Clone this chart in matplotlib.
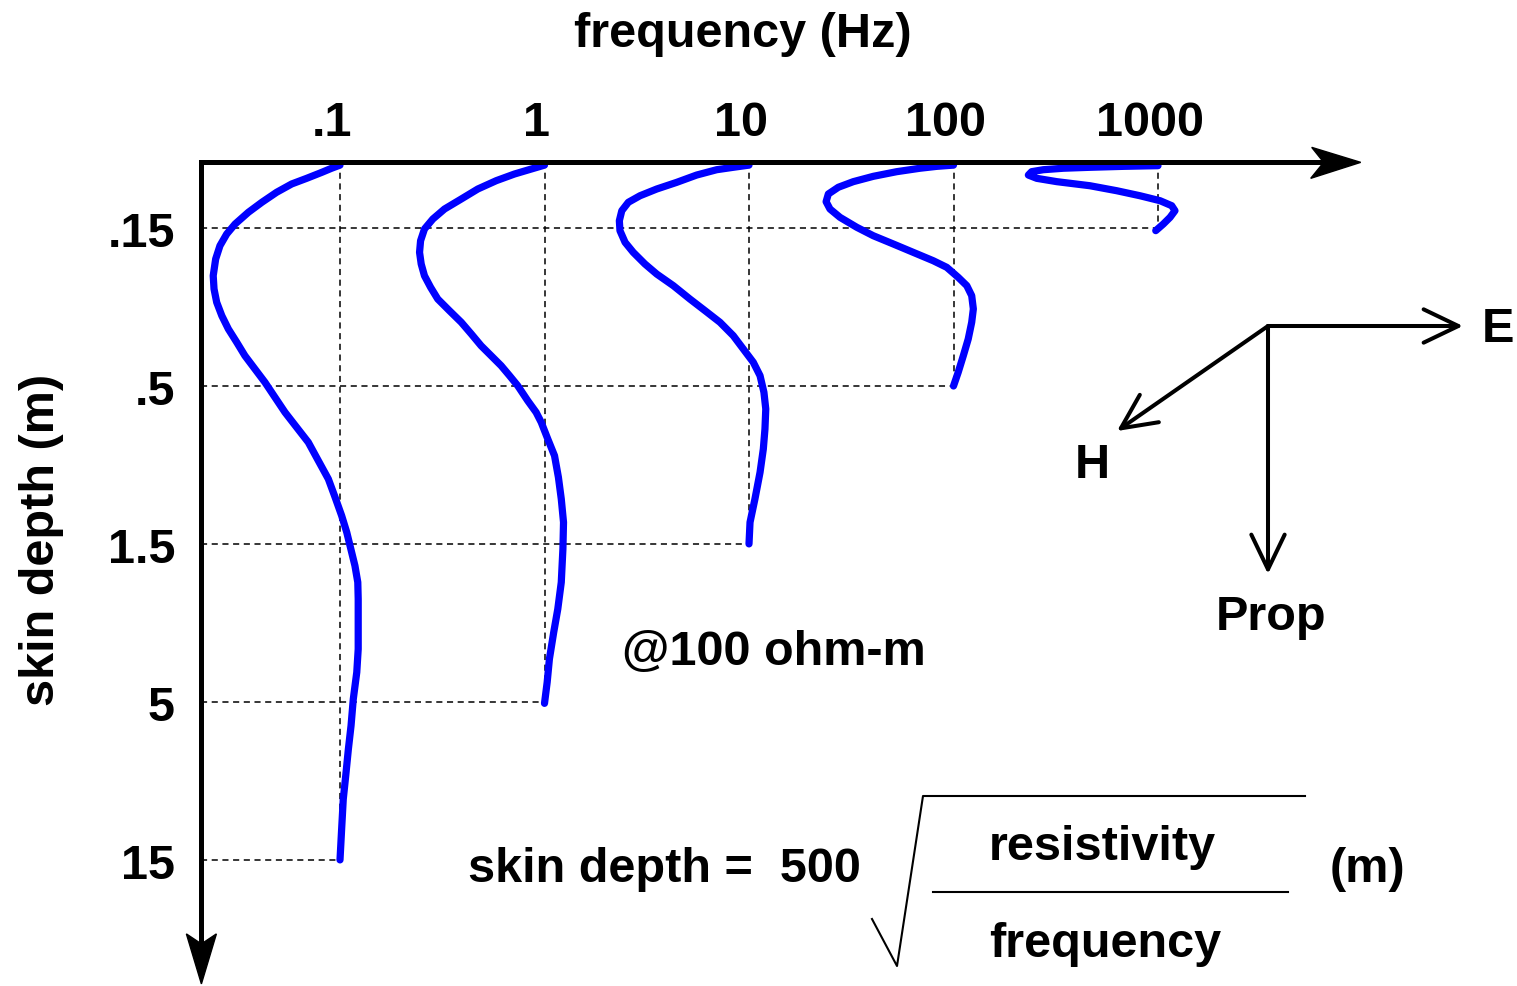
import matplotlib
matplotlib.use('Agg')
import matplotlib.pyplot as plt
import numpy as np
from matplotlib.lines import Line2D
from matplotlib.patches import Polygon
from matplotlib.transforms import ScaledTranslation

W, H, DPI = 1517, 987, 100
plt.rcParams['font.family'] = ['Liberation Sans', 'DejaVu Sans']
plt.rcParams['font.weight'] = 'bold'
FS = 35

# frequency columns (Hz) and the skin depth (km) each one reaches at 100 ohm-m
freqs = [0.1, 1, 10, 100, 1000]
freq_labels = ['.1', '1', '10', '100', '1000']
skin_depths = [15.8, 5.0, 1.58, 0.5, 0.158]
depth_ticks = [0.158, 0.5, 1.58, 5.0, 15.8]
depth_labels = ['.15', '.5', '1.5', '5', '15']

# traced field curves: sideways offset from the column (decades) vs depth (km)
amp_0p1 = [0, -0.041, -0.089, -0.163, -0.236, -0.310, -0.382, -0.448, -0.513, -0.554,
           -0.587, -0.608, -0.620, -0.616, -0.603, -0.578, -0.546, -0.505, -0.465, -0.416,
           -0.367, -0.318, -0.269, -0.212, -0.155, -0.106, -0.057, -0.024, 0.008, 0.033,
           0.053, 0.073, 0.087, 0.089, 0.089, 0.082, 0.065, 0.054, 0.041, 0.028,
           0.016, 0.008, 0.0]
z_0p1 = [0.100, 0.1023, 0.1054, 0.1101, 0.1147, 0.1219, 0.1311, 0.1410, 0.1536, 0.1652,
         0.1799, 0.1982, 0.2239, 0.2466, 0.2717, 0.2996, 0.3300, 0.3636, 0.4010, 0.4418,
         0.4867, 0.5430, 0.6057, 0.6757, 0.7536, 0.8617, 0.9847, 1.125, 1.286, 1.452,
         1.640, 1.852, 2.090, 2.361, 3.400, 4.027, 4.893, 5.943, 7.042, 8.553,
         10.14, 12.62, 15.8]
amp_1 = [0, -0.065, -0.147, -0.236, -0.326, -0.407, -0.489, -0.546, -0.587, -0.606,
         -0.611, -0.603, -0.587, -0.557, -0.522, -0.465, -0.407, -0.358, -0.310, -0.261,
         -0.212, -0.171, -0.131, -0.082, -0.041, -0.016, 0.016, 0.049, 0.068, 0.082,
         0.093, 0.090, 0.082, 0.065, 0.045, 0.024, 0.013, 0.0]
z_1 = [0.100, 0.1029, 0.1067, 0.1120, 0.1190, 0.1280, 0.1377, 0.1481, 0.1593, 0.1735,
       0.1888, 0.2055, 0.2239, 0.2436, 0.2653, 0.2888, 0.3143, 0.3422, 0.3729, 0.4010,
       0.4313, 0.4638, 0.4989, 0.5566, 0.6057, 0.6515, 0.7357, 0.8309, 0.9725, 1.139,
       1.350, 1.640, 2.090, 2.539, 3.009, 3.655, 4.332, 5.05]
amp_10 = [0, -0.077, -0.158, -0.256, -0.354, -0.451, -0.533, -0.590, -0.622, -0.634,
          -0.631, -0.606, -0.566, -0.509, -0.451, -0.370, -0.289, -0.215, -0.142, -0.077,
          -0.028, 0.021, 0.054, 0.073, 0.082, 0.078, 0.070, 0.054, 0.029, 0.005, 0.0]
z_10 = [0.100, 0.1016, 0.1034, 0.1075, 0.1134, 0.1190, 0.1250, 0.1311, 0.1394, 0.1499,
        0.1612, 0.1755, 0.1888, 0.2055, 0.2212, 0.2407, 0.2653, 0.2888, 0.3143, 0.3465,
        0.3818, 0.4207, 0.4638, 0.5235, 0.5912, 0.6842, 0.7915, 0.9378, 1.139, 1.350, 1.58]
amp_100 = [0, -0.082, -0.164, -0.278, -0.392, -0.490, -0.563, -0.612, -0.623, -0.604,
           -0.555, -0.473, -0.392, -0.294, -0.197, -0.099, -0.033, 0.023, 0.065, 0.089,
           0.097, 0.089, 0.072, 0.048, 0.023, 0.0]
z_100 = [0.100, 0.1009, 0.1023, 0.1049, 0.1085, 0.1128, 0.1175, 0.1234, 0.1305, 0.1377,
         0.1463, 0.1573, 0.1673, 0.1777, 0.1888, 0.2007, 0.2106, 0.2265, 0.2407, 0.2589,
         0.2852, 0.3143, 0.3550, 0.4010, 0.4525, 0.5]
amp_1000 = [0, -0.170, -0.333, -0.463, -0.561, -0.618, -0.634, -0.593, -0.495, -0.333,
            -0.202, -0.088, 0.010, 0.067, 0.083, 0.059, 0.026, -0.011]
z_1000 = [0.1004, 0.1009, 0.1016, 0.1023, 0.1034, 0.1049, 0.1075, 0.1101, 0.1128, 0.1162,
          0.1205, 0.1250, 0.1296, 0.1344, 0.1394, 0.1463, 0.1536, 0.1612]
curves = [(amp_0p1, z_0p1), (amp_1, z_1), (amp_10, z_10), (amp_100, z_100), (amp_1000, z_1000)]

# axis frame (Hz, km)
AXIS_FREQ, TOP_DEPTH = 0.021, 0.098
X_LINE_END, Y_LINE_END = 6500, 29

fig = plt.figure(figsize=(W / DPI, H / DPI), dpi=DPI)
ax = fig.add_axes([0, 0, 1, 1])
ax.set_xscale('log')
ax.set_yscale('log')
ax.set_xlim(10 ** -2.6626, 10 ** 4.7555)
ax.set_ylim(10 ** 1.5977, 10 ** -1.5257)
ax.axis('off')

grid_kw = dict(color='black', lw=1.1, ls=(0, (4, 3)), zorder=1)
for f, d in zip(freqs, skin_depths):
    ax.plot([f, f], [TOP_DEPTH, d], **grid_kw)
    ax.plot([AXIS_FREQ, f], [d, d], **grid_kw)

for f, (amp, z) in zip(freqs, curves):
    x = f * 10 ** np.array(amp)
    ax.plot(x, z, color='#0000ff', lw=5.2, solid_joinstyle='round',
            solid_capstyle='round', zorder=3)

# axes with stealth arrowheads
ax.plot([AXIS_FREQ, X_LINE_END], [TOP_DEPTH, TOP_DEPTH], color='black', lw=3.6,
        solid_capstyle='projecting', zorder=4)
ax.plot([AXIS_FREQ, AXIS_FREQ], [TOP_DEPTH, Y_LINE_END], color='black', lw=3.6,
        solid_capstyle='projecting', zorder=4)
head_h = [(0, 0), (-0.49, 0.15), (-0.37, 0), (-0.50, -0.16)]
head_v = [(0, 0), (-0.15, 0.50), (0, 0.40), (0.15, 0.50)]
for pts, anchor in [(head_h, (9800, TOP_DEPTH)), (head_v, (AXIS_FREQ, 39))]:
    tr = fig.dpi_scale_trans + ScaledTranslation(anchor[0], anchor[1], ax.transData)
    fig.add_artist(Polygon(pts, closed=True, transform=tr, color='black', zorder=5))

# tick labels
for f, lbl in zip(freqs, freq_labels):
    ax.annotate(lbl, xy=(f, TOP_DEPTH), xytext=(-6, 20), textcoords='offset points',
                ha='center', va='baseline', fontsize=FS)
for d, lbl in zip(depth_ticks, depth_labels):
    ax.annotate(lbl, xy=(AXIS_FREQ, d), xytext=(-19, -13), textcoords='offset points',
                ha='right', va='baseline', fontsize=FS)


def ftext(x, y, s, **kw):
    kw.setdefault('fontsize', FS)
    kw.setdefault('va', 'baseline')
    fig.text(x / W, 1 - y / H, s, **kw)


def fline(xs, ys, lw=1.5):
    fig.add_artist(Line2D(np.array(xs) / W, 1 - np.array(ys) / H, color='black',
                          lw=lw, transform=fig.transFigure))


ftext(743, 47, 'frequency (Hz)', ha='center')
ftext(42, 540, 'skin depth (m)', ha='center', va='center', rotation=90)
ftext(622, 665, '@100 ohm-m', ha='left')

# E / H / Prop sketch
arrow_kw = dict(arrowstyle='->,head_length=25,head_width=12', lw=2.9, color='black',
                shrinkA=0, shrinkB=0, mutation_scale=1)
origin = (1268, H - 327)
for tip in [(1463, H - 327), (1268, H - 575), (1117, H - 432)]:
    ax.annotate('', xy=tip, xytext=origin, xycoords='figure pixels',
                textcoords='figure pixels', arrowprops=arrow_kw)
ftext(1482, 342, 'E', ha='left')
ftext(1092, 478, 'H', ha='center')
ftext(1271, 630, 'Prop', ha='center')

# skin depth formula
ftext(468, 882, 'skin depth =  500', ha='left')
fline([872, 897, 923, 1305], [920, 967, 797, 797])
fline([933, 1288], [893, 893])
ftext(1102, 860, 'resistivity', ha='center')
ftext(1105, 957, 'frequency', ha='center')
ftext(1330, 882, '(m)', ha='left')

fig.savefig('out.png', dpi=DPI, facecolor='white')
